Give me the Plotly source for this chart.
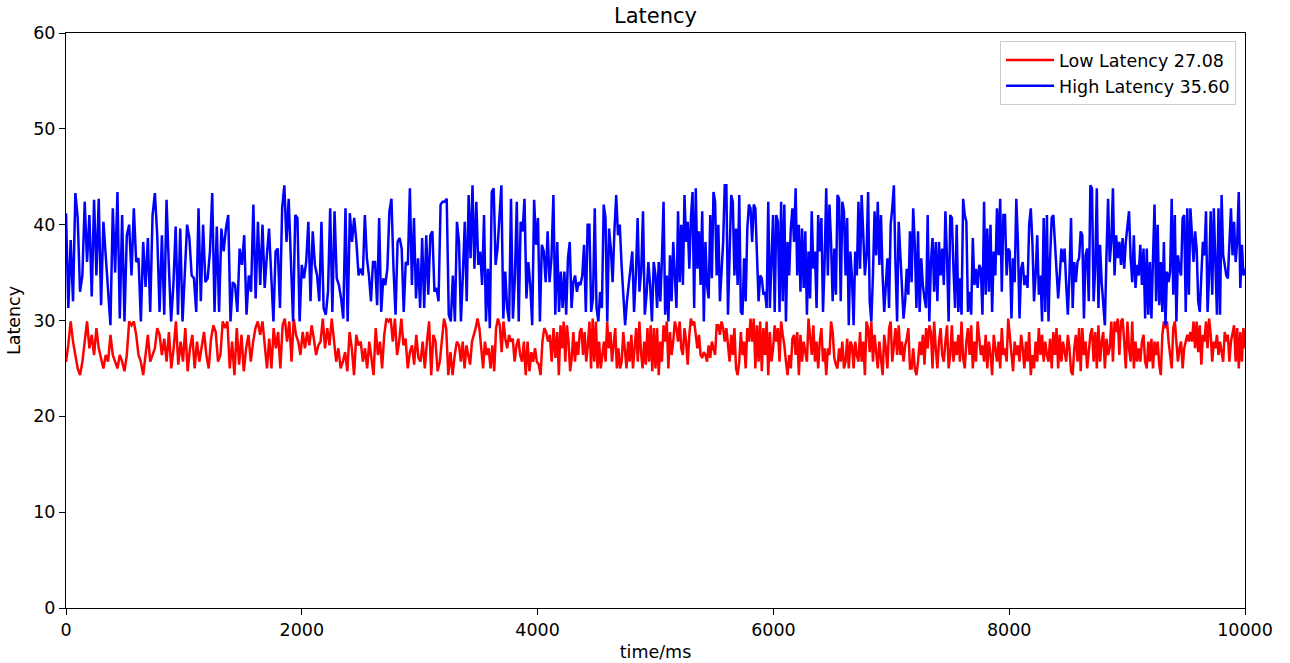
import numpy as np
import plotly.graph_objects as go

# Time axis bounds (ms) and the number of equal-width windows the samples are grouped into
T_START, T_END = 0, 10000
N_WINDOWS = 12

# Low-latency samples, grouped per time window
low_latency_windows = [
    [25.7, 27.5, 29.9, 27.8, 26.4, 25.0, 24.3, 25.7, 27.8, 29.9, 27.1, 28.5, 26.4, 29.2, 27.1, 26.1, 25.0, 26.4, 25.7, 28.5, 26.4,
     25.7, 25.0, 26.4, 25.7, 24.7, 26.4, 29.9, 29.5, 29.9, 28.5, 26.4, 25.7, 24.3, 26.4, 28.5, 25.7, 26.4, 27.1, 29.2, 28.5, 26.4],
    [28.1, 25.7, 28.8, 25.0, 27.1, 29.9, 25.4, 27.8, 25.7, 29.2, 24.7, 27.1, 28.5, 25.0, 27.8, 25.7, 27.4, 28.8, 26.4, 25.0, 28.1,
     29.5, 28.8, 25.7, 26.4, 29.9, 29.2, 29.9, 25.0, 27.8, 24.3, 29.2, 25.4, 28.5, 24.7, 27.1, 28.5, 25.7, 27.8, 29.2, 29.9, 28.5],
    [29.9, 27.1, 25.0, 28.1, 25.0, 29.2, 27.1, 28.8, 25.0, 29.5, 30.2, 27.8, 29.9, 25.7, 30.2, 28.5, 27.8, 26.4, 28.8, 27.1, 28.8,
     27.4, 29.5, 28.1, 26.4, 27.4, 27.8, 30.2, 27.1, 29.2, 27.4, 30.2, 27.8, 25.7, 27.1, 25.0, 25.7, 26.7, 24.7, 28.8, 27.1, 24.3,
     28.5, 27.4],
    [27.8, 25.7, 27.1, 25.0, 27.8, 25.7, 24.3, 29.2, 26.4, 27.8, 25.0, 28.5, 30.2, 29.9, 30.2, 27.8, 30.2, 26.4, 27.8, 30.2, 27.4,
     28.1, 25.0, 26.7, 27.4, 25.4, 28.5, 26.1, 25.7, 27.8, 25.0, 27.8, 29.9, 24.3, 28.5, 27.8, 24.7, 25.7, 27.8, 30.2, 29.2, 24.3,
     26.7, 24.3, 26.4, 27.8],
    [27.4, 25.7, 27.8, 25.0, 27.4, 26.4, 25.4, 27.8, 28.5, 29.2, 30.2, 29.2, 27.1, 25.0, 27.8, 26.4, 27.1, 25.0, 27.4, 24.7, 29.2,
     30.2, 29.5, 26.7, 29.9, 28.1, 27.1, 28.5, 27.8, 28.1, 25.7, 27.4, 28.1, 26.4, 25.7, 27.8, 24.3, 27.8, 24.7, 26.7, 25.7, 27.1,
     25.7, 25.4, 24.3, 27.8, 29.2, 28.8, 27.8, 28.5, 25.7, 29.2, 26.1],
    [28.8, 24.3, 29.5, 27.1, 29.9, 25.7, 29.5, 27.8, 24.7, 26.1, 28.8, 25.7, 27.8, 26.4, 28.8, 29.2, 26.4, 28.8, 25.7, 27.4, 29.9,
     25.0, 30.2, 25.7, 29.9, 25.0, 27.8, 25.0, 26.4, 27.8, 25.7, 29.9, 27.1, 28.8, 25.7, 27.8, 29.2, 25.0, 27.1, 25.0, 25.7, 28.8,
     26.4, 25.0, 27.8, 25.7, 28.5, 25.0, 27.1, 29.2, 25.7, 29.9, 26.7, 25.0, 27.8, 25.4, 29.2, 25.7, 29.5, 24.7, 29.2],
    [25.0, 29.2, 24.3, 27.8, 25.7, 29.5, 27.8, 29.9, 25.0, 28.8, 26.4, 27.8, 29.9, 29.2, 27.8, 29.9, 27.1, 26.4, 29.2, 27.8, 25.4,
     28.5, 30.2, 29.5, 29.9, 28.5, 27.1, 28.5, 26.4, 26.1, 26.7, 26.4, 25.7, 27.4, 26.1, 27.8, 27.1, 26.4, 29.5, 29.5, 28.5, 29.9,
     29.2, 27.8, 29.2, 27.1, 25.7, 28.5, 26.4, 29.2, 25.0, 24.3, 25.7, 28.8, 26.4, 27.8, 25.0, 29.2, 27.8, 30.2, 27.8],
    [30.2, 25.0, 29.5, 25.7, 29.9, 24.7, 29.2, 26.4, 29.9, 24.3, 28.8, 25.7, 27.1, 29.5, 27.8, 29.2, 25.7, 29.9, 28.5, 27.4, 25.7,
     24.3, 26.4, 25.0, 28.1, 28.5, 26.4, 28.8, 24.3, 28.5, 25.7, 27.8, 26.7, 25.7, 30.2, 27.8, 26.4, 29.5, 25.7, 27.8, 25.0, 27.8,
     29.2, 25.7, 27.1, 24.3, 27.1, 26.4, 29.9, 28.8, 26.1, 25.4, 25.0, 27.1, 25.7, 27.8, 25.0, 25.7, 28.1, 25.0, 27.8],
    [27.4, 25.0, 27.8, 26.4, 25.7, 28.8, 25.7, 27.8, 24.3, 29.9, 29.2, 26.7, 29.9, 25.7, 28.5, 26.4, 25.0, 27.8, 25.7, 24.3, 28.5,
     27.1, 25.0, 29.2, 29.9, 25.7, 27.4, 29.2, 26.4, 29.5, 26.4, 27.8, 25.7, 27.4, 28.1, 29.2, 25.0, 25.0, 27.1, 25.0, 24.3, 25.7,
     27.8, 26.4, 28.5, 25.4, 29.2, 27.1, 29.5, 28.8, 25.0, 29.9, 27.1, 25.0, 27.8, 29.2, 26.4, 25.7, 27.8, 29.5, 25.0],
    [26.4, 29.5, 25.7, 27.8, 26.4, 28.5, 25.7, 29.9, 26.1, 25.0, 27.8, 29.2, 26.4, 29.5, 25.0, 27.8, 25.7, 29.9, 27.8, 26.4, 27.4,
     25.7, 28.5, 25.0, 27.8, 26.4, 24.3, 28.5, 27.1, 25.7, 27.8, 25.0, 29.2, 26.4, 27.1, 25.7, 30.2, 28.5, 26.4, 24.7, 27.8, 26.4,
     27.4, 25.7, 28.5, 27.1, 25.0, 27.8, 25.7, 28.8, 24.3, 26.4, 25.0, 27.8, 25.7, 29.2, 26.4, 28.5, 25.7, 27.8, 26.4],
    [25.7, 28.1, 25.0, 28.8, 26.4, 29.2, 25.0, 28.5, 25.7, 27.8, 26.7, 25.7, 28.5, 27.1, 24.7, 24.3, 27.1, 28.5, 25.7, 29.2, 24.7,
     29.2, 26.4, 27.8, 25.0, 27.1, 28.5, 29.2, 25.7, 28.8, 25.0, 29.5, 25.7, 27.8, 28.8, 25.0, 28.1, 26.4, 27.1, 29.9, 25.7, 29.9,
     28.8, 30.2, 26.4, 29.9, 30.2, 27.8, 25.0, 29.9, 27.1, 25.7, 29.9, 25.0, 27.8, 25.7, 27.1, 25.7, 27.8, 28.5, 25.7],
    [25.0, 27.8, 25.7, 28.1, 25.0, 27.8, 26.4, 27.8, 25.4, 24.3, 28.5, 29.9, 29.2, 29.9, 27.8, 26.4, 25.0, 29.2, 29.9, 27.8, 25.7,
     27.1, 27.8, 25.0, 27.1, 27.8, 28.5, 27.8, 28.8, 27.8, 29.9, 27.1, 29.9, 26.7, 29.5, 25.4, 28.5, 27.8, 29.9, 27.1, 30.2, 28.5,
     25.7, 27.8, 27.1, 28.5, 26.4, 27.8, 26.7, 25.7, 28.8, 27.8, 28.5, 25.7, 27.8, 28.8, 29.5, 25.7, 29.2, 25.0, 28.8, 25.7, 29.2,
     27.1],
]

# High-latency samples, grouped per time window
high_latency_windows = [
    [41.2, 31.3, 38.4, 32.0, 43.3, 40.7, 33.0, 34.7, 42.4, 36.1, 41.0, 32.5, 42.6, 34.7, 42.7, 31.6, 40.3, 36.5, 33.4, 29.5, 41.7,
     35.0, 43.4, 30.2, 41.0, 29.9, 38.9, 40.0, 34.7, 41.7, 36.1, 36.5, 29.9, 38.2, 33.5, 38.6, 30.9, 41.0, 43.3, 38.9, 30.9, 38.9],
    [30.6, 42.6, 35.8, 29.9, 33.7, 39.8, 30.6, 39.6, 29.9, 34.7, 40.0, 38.6, 34.7, 34.4, 30.9, 41.7, 32.0, 40.0, 34.0, 34.4, 37.2,
     43.3, 30.9, 39.8, 30.9, 39.6, 37.2, 39.6, 41.0, 29.9, 34.0, 33.7, 30.9, 37.5, 35.8, 38.9, 30.6, 34.7, 33.0, 42.1, 32.3, 40.3,
     33.7],
    [40.0, 33.4, 36.8, 39.6, 34.7, 29.9, 37.2, 37.5, 31.3, 41.7, 44.1, 38.2, 42.7, 35.4, 29.9, 41.0, 40.7, 29.9, 35.8, 34.4, 36.1,
     40.3, 32.0, 39.3, 35.8, 34.7, 32.0, 40.3, 31.3, 30.6, 33.0, 41.7, 30.9, 41.4, 34.4, 33.7, 32.3, 30.2, 41.7, 29.9, 41.2, 38.2,
     40.7, 38.2, 34.7],
    [35.4, 34.7, 41.0, 36.5, 34.7, 32.0, 36.1, 36.1, 31.6, 40.7, 30.9, 34.4, 33.7, 35.4, 41.4, 42.7, 35.4, 30.6, 38.2, 38.6, 37.5,
     30.9, 36.1, 35.8, 43.8, 33.7, 40.7, 32.3, 36.5, 31.3, 38.6, 31.3, 38.9, 32.7, 38.9, 39.3, 33.0, 33.4, 32.0, 42.1, 42.4, 42.4,
     42.7, 30.6, 29.9, 34.7, 29.9, 40.3],
    [38.2, 29.9, 34.7, 40.3, 32.0, 43.1, 36.5, 44.1, 35.4, 42.4, 35.8, 37.2, 33.7, 41.0, 29.9, 35.4, 29.2, 43.4, 43.8, 35.8, 37.5,
     41.4, 44.1, 30.2, 35.1, 31.3, 29.9, 42.7, 30.2, 34.4, 42.4, 29.9, 40.3, 39.3, 42.7, 32.3, 36.1, 33.7, 29.5, 42.6, 37.9, 40.7,
     29.9, 37.9, 37.2, 34.0, 39.3, 34.0, 36.5, 43.1, 30.6],
    [38.2, 30.9, 35.1, 31.3, 35.1, 30.6, 36.5, 38.2, 31.3, 34.0, 34.7, 33.0, 34.0, 33.7, 34.7, 37.9, 30.9, 40.0, 40.0, 30.9, 32.3,
     41.7, 31.3, 29.9, 33.0, 31.3, 42.1, 40.7, 29.9, 39.6, 37.5, 34.0, 39.3, 43.1, 38.9, 40.0, 35.8, 33.0, 29.5, 32.0, 33.7, 35.8,
     37.2, 30.9, 34.7, 40.7, 33.0, 35.1, 41.4, 30.6, 32.7, 36.1, 33.7, 29.9, 36.1],
    [34.7, 31.3, 36.1, 32.0, 36.5, 42.4, 30.6, 34.7, 29.9, 36.8, 32.0, 38.2, 34.7, 31.3, 41.4, 34.0, 40.0, 33.7, 43.1, 38.2, 40.3,
     35.4, 40.7, 43.4, 31.3, 43.8, 35.4, 39.3, 33.7, 41.4, 29.9, 38.2, 33.7, 32.3, 41.0, 34.4, 43.4, 42.4, 34.7, 40.0, 32.0, 34.7,
     38.2, 44.1, 44.1, 30.6, 36.5, 43.1, 42.4, 34.7, 39.6, 33.7, 43.1, 30.9, 30.6, 36.5, 32.0, 39.6, 42.1, 41.7, 38.2],
    [42.1, 41.7, 36.8, 32.0, 34.7, 34.4, 32.7, 33.0, 31.3, 42.4, 31.3, 37.2, 41.0, 30.9, 41.0, 40.3, 30.9, 42.4, 32.0, 42.1, 29.9,
     38.2, 34.7, 39.6, 41.7, 38.2, 43.8, 34.7, 40.0, 33.0, 39.6, 33.4, 39.3, 30.6, 37.2, 32.3, 41.4, 35.4, 37.2, 31.3, 41.0, 37.2,
     40.7, 30.9, 36.1, 43.8, 34.7, 42.1, 38.2, 32.0, 37.5, 32.7, 43.1, 42.7, 32.0, 42.4, 41.4, 34.7, 40.7, 29.5, 37.2],
    [34.4, 29.5, 37.2, 34.7, 42.4, 35.4, 43.1, 37.9, 34.7, 36.8, 43.4, 32.0, 29.9, 34.7, 41.4, 36.8, 42.4, 35.8, 41.0, 34.7, 30.9,
     33.7, 36.5, 31.3, 40.0, 41.7, 44.1, 35.8, 29.9, 40.3, 36.8, 32.7, 30.2, 32.0, 35.4, 32.7, 39.3, 34.0, 41.7, 37.9, 31.3, 39.3,
     30.9, 36.5, 33.7, 32.3, 31.3, 41.0, 29.9, 36.1, 38.6, 33.0, 38.2, 32.0, 38.2, 34.7, 37.5, 33.7, 41.4, 36.5, 29.9],
    [41.0, 40.7, 35.4, 31.3, 40.0, 30.9, 34.4, 30.6, 42.7, 41.0, 40.3, 30.9, 33.0, 30.6, 38.6, 33.7, 35.4, 33.4, 35.8, 35.4, 30.6,
     42.4, 32.7, 39.6, 33.0, 40.0, 30.9, 37.2, 34.7, 41.7, 36.8, 42.7, 33.0, 41.0, 41.0, 34.7, 37.5, 37.2, 30.2, 36.5, 34.0, 42.7,
     38.2, 30.2, 35.4, 36.1, 33.7, 34.7, 33.4, 40.0, 41.7, 38.2, 32.0, 34.7, 38.9, 32.7, 34.7, 29.9, 40.7, 30.9, 41.0],
    [29.9, 36.5, 40.7, 41.0, 38.2, 36.1, 32.3, 34.7, 37.5, 36.1, 37.5, 33.7, 30.6, 34.7, 40.7, 31.3, 36.1, 34.0, 36.1, 36.5, 39.3,
     38.9, 30.2, 36.8, 37.5, 32.0, 44.1, 43.8, 32.0, 35.4, 43.8, 31.3, 37.9, 34.0, 32.0, 29.5, 36.8, 42.7, 36.1, 38.2, 43.8, 34.7,
     38.9, 36.5, 38.2, 35.8, 38.6, 35.4, 38.2, 39.6, 41.4, 36.5, 34.0, 38.9, 33.4, 35.8, 34.7, 37.9, 33.7, 37.5, 30.2],
    [37.5, 30.6, 36.1, 30.2, 36.5, 42.1, 32.0, 40.0, 31.6, 36.1, 30.9, 38.2, 29.5, 35.1, 34.0, 35.1, 42.7, 32.7, 41.0, 29.9, 36.8,
     35.4, 34.7, 40.7, 41.0, 30.9, 41.7, 32.7, 41.7, 38.9, 36.1, 39.3, 37.5, 32.0, 30.9, 34.7, 38.2, 36.8, 41.4, 30.9, 34.7, 41.4,
     32.7, 41.7, 34.7, 30.6, 41.7, 30.6, 43.1, 36.8, 35.8, 34.7, 34.4, 37.9, 41.7, 36.8, 40.3, 36.1, 38.2, 43.4, 33.4, 37.9, 34.7,
     35.4],
]

legend_labels = ["Low Latency 27.08", "High Latency 35.60"]
x_ticks = [0, 2000, 4000, 6000, 8000, 10000]
x_tick_text = ["0", "2000", "4000", "6000", "8000", "10000"]
y_ticks = [0, 10, 20, 30, 40, 50, 60]


def spread_over_windows(windows):
    """Place each window's samples evenly across its share of the time axis."""
    edges = np.linspace(T_START, T_END, N_WINDOWS + 1)
    xs, ys = [], []
    for i, vals in enumerate(windows):
        last = i == len(windows) - 1
        xs.append(np.linspace(edges[i], edges[i + 1], len(vals), endpoint=last))
        ys.append(np.asarray(vals, dtype=float))
    return np.concatenate(xs), np.concatenate(ys)


low_t, low_v = spread_over_windows(low_latency_windows)
high_t, high_v = spread_over_windows(high_latency_windows)

FONT = "DejaVu Sans"
BASE = 17.5

fig = go.Figure()
fig.add_trace(go.Scatter(x=low_t, y=low_v, mode="lines", name=legend_labels[0],
                         line=dict(color="#ff0000", width=2.5)))
fig.add_trace(go.Scatter(x=high_t, y=high_v, mode="lines", name=legend_labels[1],
                         line=dict(color="#0000ff", width=2.5)))

axis_common = dict(
    showline=True, linecolor="black", linewidth=1, mirror=True,
    ticks="outside", ticklen=6, tickwidth=1, tickcolor="black",
    showgrid=False, zeroline=False, automargin=False,
    tickfont=dict(family=FONT, size=BASE, color="black"),
)

fig.update_layout(
    width=1290, height=663,
    margin=dict(l=66, r=45, t=33, b=55),
    paper_bgcolor="white", plot_bgcolor="white",
    font=dict(family=FONT, size=BASE, color="black"),
    title=dict(text="Latency", x=0.5, xref="paper", y=1 - 16 / 663, yref="container",
               xanchor="center", yanchor="middle", font=dict(family=FONT, size=21, color="black")),
    xaxis=dict(range=[T_START, T_END], tickvals=x_ticks, ticktext=x_tick_text,
               title=dict(text="time/ms", standoff=6, font=dict(family=FONT, size=BASE)), **axis_common),
    yaxis=dict(range=[0, 60], tickvals=y_ticks,
               title=dict(text="Latency", standoff=8, font=dict(family=FONT, size=BASE)), **axis_common),
    legend=dict(x=0.9924, y=0.986, xanchor="right", yanchor="top",
                bgcolor="rgba(255,255,255,0.8)", bordercolor="#cccccc", borderwidth=1,
                font=dict(family=FONT, size=BASE, color="black"), itemwidth=48, tracegroupgap=0),
    showlegend=True,
)

fig.write_html("out.html")
